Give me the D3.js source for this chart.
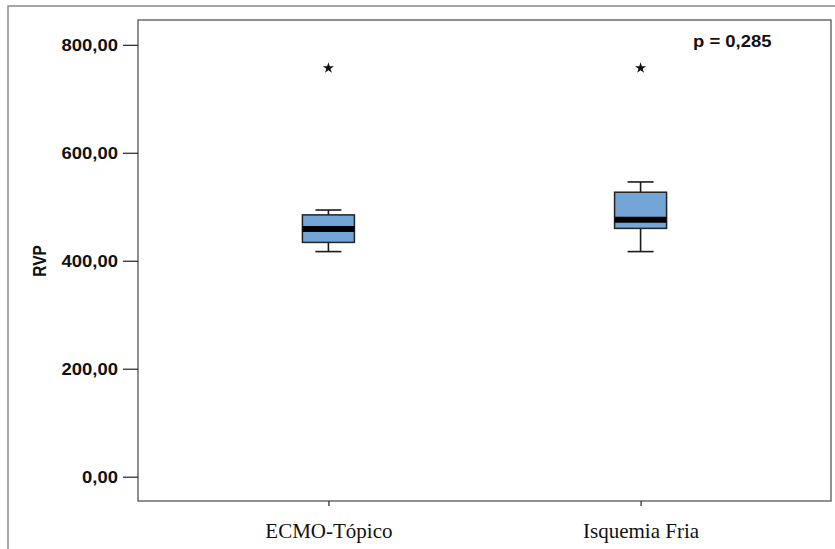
<!DOCTYPE html>
<html>
<head>
<meta charset="utf-8">
<script src="https://cdn.jsdelivr.net/npm/d3@7"></script>
<style>
  html, body { margin: 0; padding: 0; background: #fff; }
  svg { display: block; }
</style>
</head>
<body>
<svg id="chart" width="835" height="549"></svg>
<script>
// Groups and their box-plot summaries (RVP)
const groups     = ["ECMO-Tópico", "Isquemia Fria"];
const whiskerLow = [417, 417];
const q1         = [434, 460];
const medians    = [459, 476];
const q3         = [485, 527];
const whiskerHigh= [494, 546];
const outliers   = [757, 757];

const yTicks = [0, 200, 400, 600, 800];
const yLabel = "RVP";
const pLabel = "p = 0,285";

const fmt = v => d3.format(".2f")(v).replace(".", ",");

const svg = d3.select("#chart");
const W = 835, H = 549;
const plot = { left: 138, right: 831, top: 20, bottom: 501 };

// outer frame (top and left edges visible)
svg.append("path")
  .attr("d", `M8,${H} L8,6 L${W},6`)
  .attr("fill", "none").attr("stroke", "#8c8c8c").attr("stroke-width", 1.5);

const x = d3.scalePoint().domain(groups)
  .range([plot.left, plot.right]).padding(0.61);
const y = d3.scaleLinear().domain([-45, 846]).range([plot.bottom, plot.top]);

// plot frame
svg.append("rect")
  .attr("x", plot.left).attr("y", plot.top)
  .attr("width", plot.right - plot.left).attr("height", plot.bottom - plot.top)
  .attr("fill", "none").attr("stroke", "#555").attr("stroke-width", 1.3);

// y axis
const yAxis = svg.append("g")
  .attr("transform", `translate(${plot.left},0)`)
  .call(d3.axisLeft(y).tickValues(yTicks).tickSize(15).tickFormat(fmt).tickPadding(0));
yAxis.select(".domain").remove();
yAxis.selectAll(".tick line").attr("stroke", "#333").attr("stroke-width", 1.3);
yAxis.selectAll(".tick text").remove();
yAxis.selectAll(".tick").append("text")
  .attr("transform", "translate(-20,0) scale(1.12,1)")
  .attr("dy", "0.36em")
  .attr("text-anchor", "end")
  .style("font-family", "'Liberation Sans', Arial, sans-serif")
  .style("font-weight", "bold")
  .style("font-size", "16.5px")
  .attr("fill", "#111")
  .text(d => fmt(d));

// x axis
const xAxis = svg.append("g")
  .attr("transform", `translate(0,${plot.bottom})`)
  .call(d3.axisBottom(x).tickSize(5).tickPadding(0));
xAxis.select(".domain").remove();
xAxis.selectAll(".tick line").attr("stroke", "#333").attr("stroke-width", 1.3);
xAxis.selectAll(".tick text")
  .attr("y", 37)
  .attr("dy", 0)
  .style("font-family", "'Liberation Serif', 'Times New Roman', serif")
  .style("font-size", "21px")
  .attr("fill", "#111");

// axis title
svg.append("text")
  .attr("transform", "translate(46,261) rotate(-90) scale(1,1.15)")
  .attr("text-anchor", "middle")
  .style("font-family", "'Liberation Sans', Arial, sans-serif")
  .style("font-weight", "bold")
  .style("font-size", "15.5px")
  .attr("fill", "#111")
  .text(yLabel);

// p-value annotation
svg.append("text")
  .attr("transform", "translate(693,47) scale(1.12,1)")
  .style("font-family", "'Liberation Sans', Arial, sans-serif")
  .style("font-weight", "bold")
  .style("font-size", "16.5px")
  .attr("fill", "#111")
  .text(pLabel);

// boxes
const boxW = 52, capW = 26;
const data = groups.map((g, i) => ({
  g, lo: whiskerLow[i], q1: q1[i], med: medians[i], q3: q3[i], hi: whiskerHigh[i], out: outliers[i]
}));

const box = svg.append("g").selectAll("g").data(data).join("g")
  .attr("transform", d => `translate(${x(d.g)},0)`);

const stroke = "#1a1a1a";
// whiskers
box.append("line").attr("x1", 0).attr("x2", 0)
  .attr("y1", d => y(d.hi)).attr("y2", d => y(d.q3))
  .attr("stroke", stroke).attr("stroke-width", 1.6);
box.append("line").attr("x1", 0).attr("x2", 0)
  .attr("y1", d => y(d.q1)).attr("y2", d => y(d.lo))
  .attr("stroke", stroke).attr("stroke-width", 1.6);
box.append("line").attr("x1", -capW / 2).attr("x2", capW / 2)
  .attr("y1", d => y(d.hi)).attr("y2", d => y(d.hi))
  .attr("stroke", stroke).attr("stroke-width", 1.6);
box.append("line").attr("x1", -capW / 2).attr("x2", capW / 2)
  .attr("y1", d => y(d.lo)).attr("y2", d => y(d.lo))
  .attr("stroke", stroke).attr("stroke-width", 1.6);
// box
box.append("rect")
  .attr("x", -boxW / 2).attr("width", boxW)
  .attr("y", d => y(d.q3)).attr("height", d => y(d.q1) - y(d.q3))
  .attr("fill", "#73a5d7").attr("stroke", "#222").attr("stroke-width", 1.5);
// median
box.append("line").attr("x1", -boxW / 2).attr("x2", boxW / 2)
  .attr("y1", d => y(d.med)).attr("y2", d => y(d.med))
  .attr("stroke", "#000").attr("stroke-width", 6);
// extreme values
box.append("path")
  .attr("transform", d => `translate(0,${y(d.out)})`)
  .attr("d", d3.symbol(d3.symbolStar, 38))
  .attr("fill", "#111");
</script>
</body>
</html>
